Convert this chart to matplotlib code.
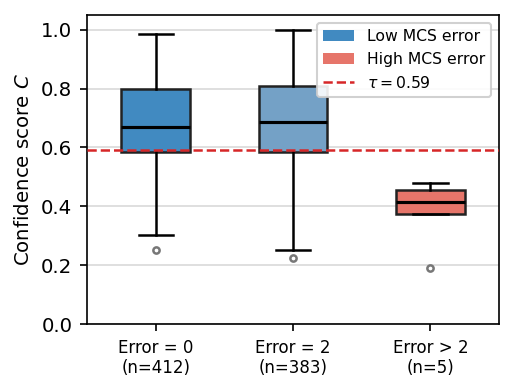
import matplotlib
matplotlib.use("Agg")
import matplotlib.pyplot as plt
from matplotlib.patches import Patch
from matplotlib.lines import Line2D

categories = ["Error = 0\n(n=412)", "Error = 2\n(n=383)", "Error > 2\n(n=5)"]
q1 = [0.586, 0.586, 0.373]
med = [0.671, 0.685, 0.414]
q3 = [0.800, 0.810, 0.454]
whislo = [0.302, 0.251, 0.373]
whishi = [0.986, 1.000, 0.478]
fliers = [[0.251], [0.224], [0.190]]
box_colors = ["#418ac1", "#74a1c6", "#e6756a"]
tau = 0.59

fig, ax = plt.subplots(figsize=(514/150, 392/150), dpi=150)

stats = []
for i in range(len(categories)):
    stats.append(dict(med=med[i], q1=q1[i], q3=q3[i], whislo=whislo[i],
                      whishi=whishi[i], fliers=fliers[i], label=categories[i]))

bp = ax.bxp(stats, positions=range(len(categories)), widths=0.5, patch_artist=True,
            boxprops=dict(edgecolor="#222222", linewidth=1.2),
            medianprops=dict(color="black", linewidth=1.5),
            whiskerprops=dict(color="black", linewidth=1.2),
            capprops=dict(color="black", linewidth=1.2),
            flierprops=dict(marker="o", markersize=3, markerfacecolor="none",
                            markeredgecolor="#777777", markeredgewidth=1.2))
for patch, c in zip(bp["boxes"], box_colors):
    patch.set_facecolor(c)

ax.axhline(tau, color="#d62728", linestyle="--", linewidth=1.2, zorder=3)

ax.set_xlim(-0.5, 2.5)
ax.set_ylim(0, 1.05)
ax.set_yticks([0.0, 0.2, 0.4, 0.6, 0.8, 1.0])
ax.grid(axis="y", color="#d9d9d9", linewidth=0.8)
ax.set_axisbelow(True)
ax.tick_params(axis="x", labelsize=8)
ax.tick_params(axis="y", labelsize=9.5)
ax.set_ylabel("Confidence score $C$", fontsize=9.5)

handles = [Patch(facecolor="#418ac1", label="Low MCS error"),
           Patch(facecolor="#e6756a", label="High MCS error"),
           Line2D([0], [0], color="#d62728", linestyle="--", linewidth=1.2, label=r"$\tau = 0.59$")]
ax.legend(handles=handles, loc="upper right", fontsize=7.5, framealpha=0.9)

fig.subplots_adjust(left=87/514, right=499/514, top=1-15/392, bottom=1-324/392)
fig.savefig("out.png", dpi=150)
